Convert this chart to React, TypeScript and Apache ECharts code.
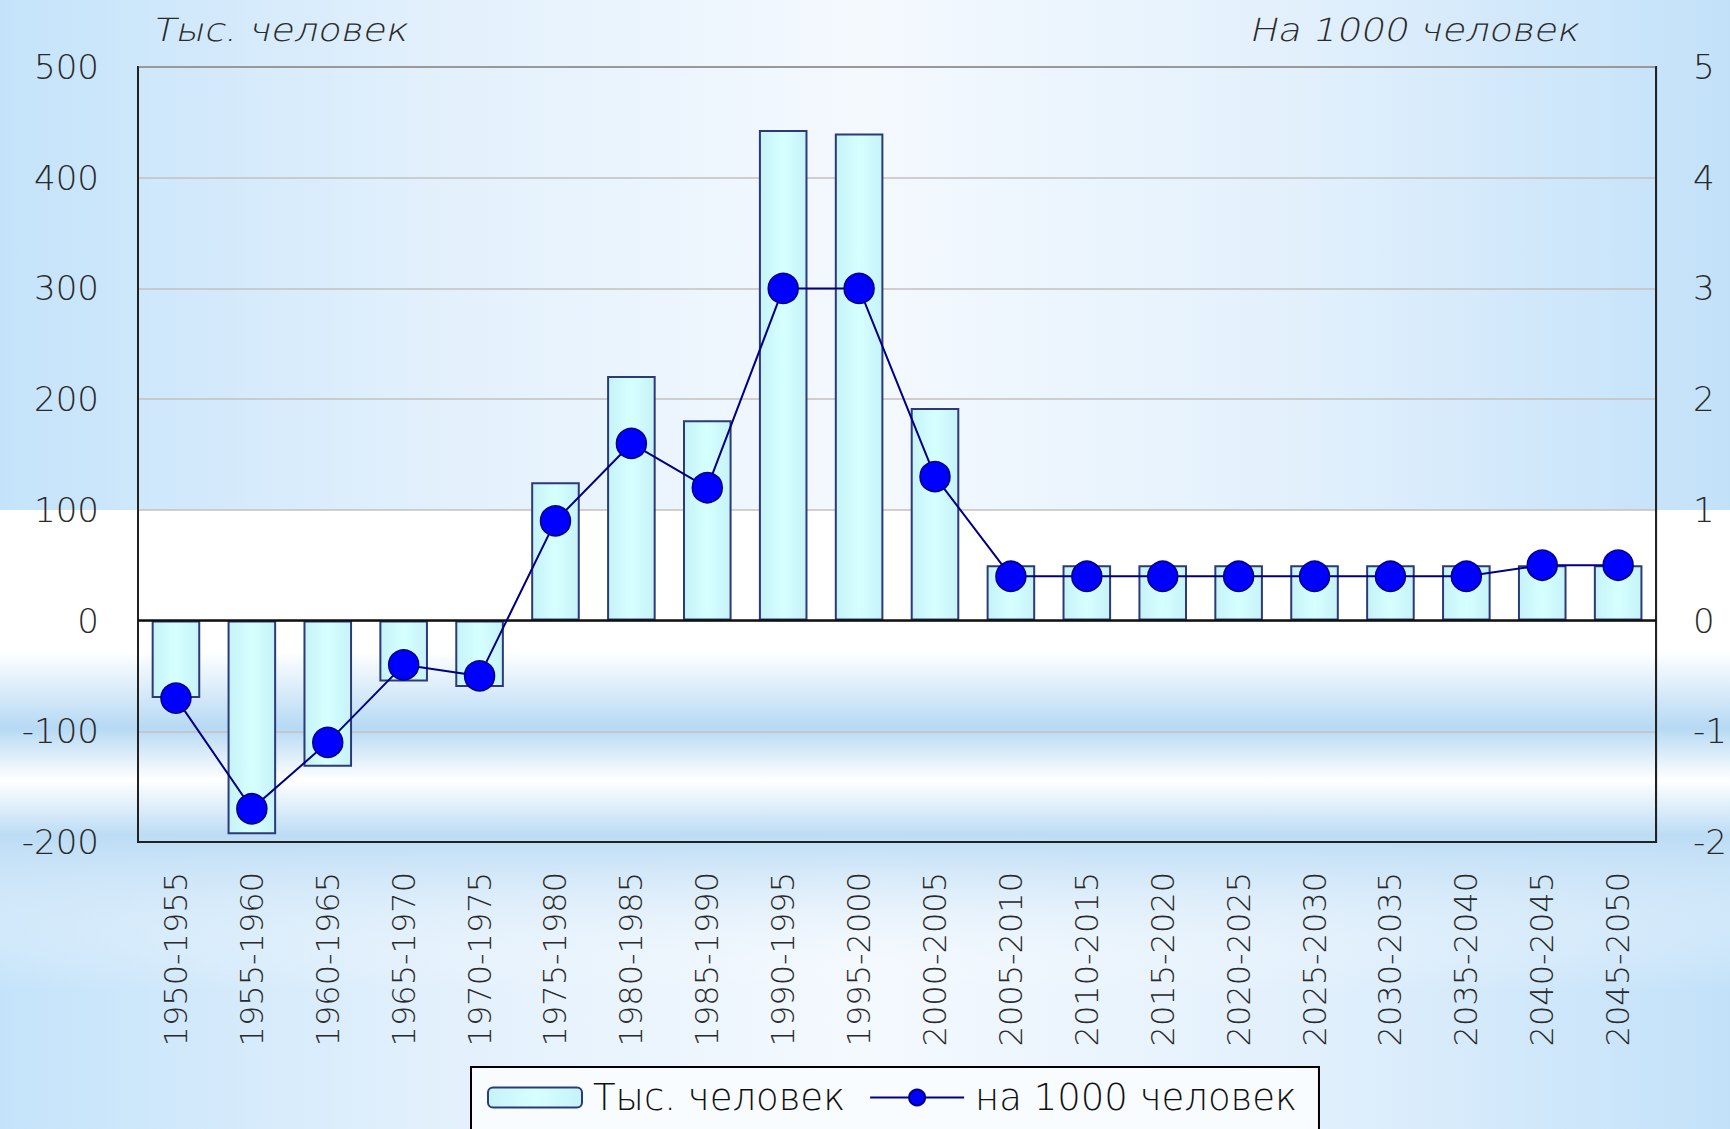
import { useEffect, useRef } from 'react';
import * as echarts from 'echarts';

const categories = [
  '1950-1955', '1955-1960', '1960-1965', '1965-1970', '1970-1975',
  '1975-1980', '1980-1985', '1985-1990', '1990-1995', '1995-2000',
  '2000-2005', '2005-2010', '2010-2015', '2015-2020', '2020-2025',
  '2025-2030', '2030-2035', '2035-2040', '2040-2045', '2045-2050',
];
const thousandsValues = [-70, -193, -132, -55, -60, 125, 221, 181, 443, 440, 192, 50, 50, 50, 50, 50, 50, 50, 50, 50];
const per1000Values = [-0.7, -1.7, -1.1, -0.4, -0.5, 0.9, 1.6, 1.2, 3.0, 3.0, 1.3, 0.4, 0.4, 0.4, 0.4, 0.4, 0.4, 0.4, 0.5, 0.5];
const leftAxisRange = [-200, 500];
const rightAxisRange = [-2, 5];
const seriesNames = ['Тыс. человек', 'на 1000 человек'];
const axisTitles = ['Тыс. человек', 'На 1000 человек'];

const W = 1730;
const H = 1129;

function vgrad(c0: string, c1: string) {
  return new echarts.graphic.LinearGradient(0, 0, 0, 1, [
    { offset: 0, color: c0 },
    { offset: 1, color: c1 },
  ]);
}

export default function App() {
  const ref = useRef<HTMLDivElement>(null);
  useEffect(() => {
    if (!ref.current) return;
    const chart = echarts.init(ref.current, undefined, { renderer: 'svg' });
    const axisFont = 'DejaVu Sans';
    const textColor = '#2a2a2a';
    const baseGrad = new echarts.graphic.LinearGradient(0, 0, 1, 0, [
      { offset: 0, color: '#c4e3fa' },
      { offset: 0.25, color: '#e2f0fc' },
      { offset: 0.5, color: '#f4f9fe' },
      { offset: 0.75, color: '#e2f0fc' },
      { offset: 1, color: '#c2e1f9' },
    ]);
    const titleStyle = {
      fontFamily: axisFont, fontSize: 32, fontWeight: 200,
      fill: '#2a2a2a', verticalAlign: 'top',
    };
    const option: any = {
      animation: false,
      backgroundColor: '#ffffff',
      graphic: [
        { type: 'rect', z: -100, shape: { x: 0, y: 0, width: W, height: H }, style: { fill: baseGrad } },
        { type: 'rect', z: -99, shape: { x: 0, y: 510, width: W, height: 141 }, style: { fill: '#ffffff' } },
        { type: 'rect', z: -99, shape: { x: 0, y: 651, width: W, height: 77 }, style: { fill: vgrad('#ffffff', '#b6d9f4') } },
        { type: 'rect', z: -99, shape: { x: 0, y: 728, width: W, height: 52 }, style: { fill: vgrad('#b6d9f4', '#ffffff') } },
        { type: 'rect', z: -99, shape: { x: 0, y: 780, width: W, height: 55 }, style: { fill: vgrad('#ffffff', '#bcdcf5') } },
        { type: 'rect', z: -99, shape: { x: 0, y: 835, width: W, height: 155 }, style: { fill: vgrad('rgba(188,220,245,1)', 'rgba(255,255,255,0)') } },
        {
          type: 'text', z: 10, x: 158, y: 14, scaleX: 1.17, skewX: -0.22,
          style: { ...titleStyle, text: axisTitles[0] },
        },
        {
          type: 'text', z: 10, x: 1255, y: 14, scaleX: 1.17, skewX: -0.22,
          style: { ...titleStyle, text: axisTitles[1] },
        },
      ],
      grid: {
        left: 138, right: W - 1659, top: 67, bottom: H - 842,
        show: true, borderColor: '#222', borderWidth: 2, backgroundColor: 'transparent',
      },
      legend: {
        left: 471, top: 1067,
        padding: [12, 22, 24, 16],
        borderColor: '#000', borderWidth: 2, backgroundColor: '#f9fcff',
        itemWidth: 94, itemHeight: 20, itemGap: 24,
        textStyle: { fontFamily: axisFont, fontSize: 37, fontWeight: 200, color: '#111', padding: [0, 0, 0, 6] },
        data: seriesNames,
      },
      xAxis: {
        type: 'category',
        data: categories,
        position: 'bottom',
        axisLine: { onZero: false, lineStyle: { color: '#222', width: 2 } },
        axisTick: { show: false },
        axisLabel: {
          rotate: 90, interval: 0, margin: 30,
          fontFamily: axisFont, fontSize: 32, fontWeight: 200, color: textColor,
        },
        splitLine: { show: false },
      },
      yAxis: [
        {
          type: 'value', min: leftAxisRange[0], max: leftAxisRange[1], interval: 100,
          axisLine: { show: true, lineStyle: { color: '#222', width: 2 } },
          axisTick: { show: false },
          axisLabel: { margin: 39, fontFamily: axisFont, fontSize: 34, fontWeight: 200, color: textColor },
          splitLine: { show: true, lineStyle: { color: '#c4c0bc', width: 1.5 } },
        },
        {
          type: 'value', min: rightAxisRange[0], max: rightAxisRange[1], interval: 1,
          position: 'right',
          axisLine: { show: true, lineStyle: { color: '#222', width: 2 } },
          axisTick: { show: false },
          axisLabel: { margin: 37, fontFamily: axisFont, fontSize: 34, fontWeight: 200, color: textColor },
          splitLine: { show: false },
        },
      ],
      series: [
        {
          name: seriesNames[0],
          type: 'bar',
          yAxisIndex: 0,
          data: thousandsValues,
          barCategoryGap: '36%',
          itemStyle: {
            color: new echarts.graphic.LinearGradient(0, 0, 1, 0, [
              { offset: 0, color: '#c6f3f8' },
              { offset: 0.5, color: '#d6ffff' },
              { offset: 1, color: '#c6f3f8' },
            ]),
            borderColor: '#2c3a78',
            borderWidth: 2,
          },
          markLine: {
            silent: true,
            symbol: 'none',
            label: { show: false },
            lineStyle: { color: '#111', width: 2.5, type: 'solid' },
            data: [{ yAxis: 0 }],
          },
          z: 3,
        },
        {
          name: seriesNames[1],
          type: 'line',
          yAxisIndex: 1,
          data: per1000Values,
          symbol: 'circle',
          symbolSize: 30,
          lineStyle: { color: '#000080', width: 2 },
          itemStyle: { color: '#0000ff', borderColor: '#000080', borderWidth: 1.5 },
          z: 5,
        },
      ],
    };
    chart.setOption(option);
    return () => chart.dispose();
  }, []);
  return (
    <div
      ref={ref}
      style={{ position: 'fixed', left: 0, top: 0, width: W, height: H }}
    />
  );
}
